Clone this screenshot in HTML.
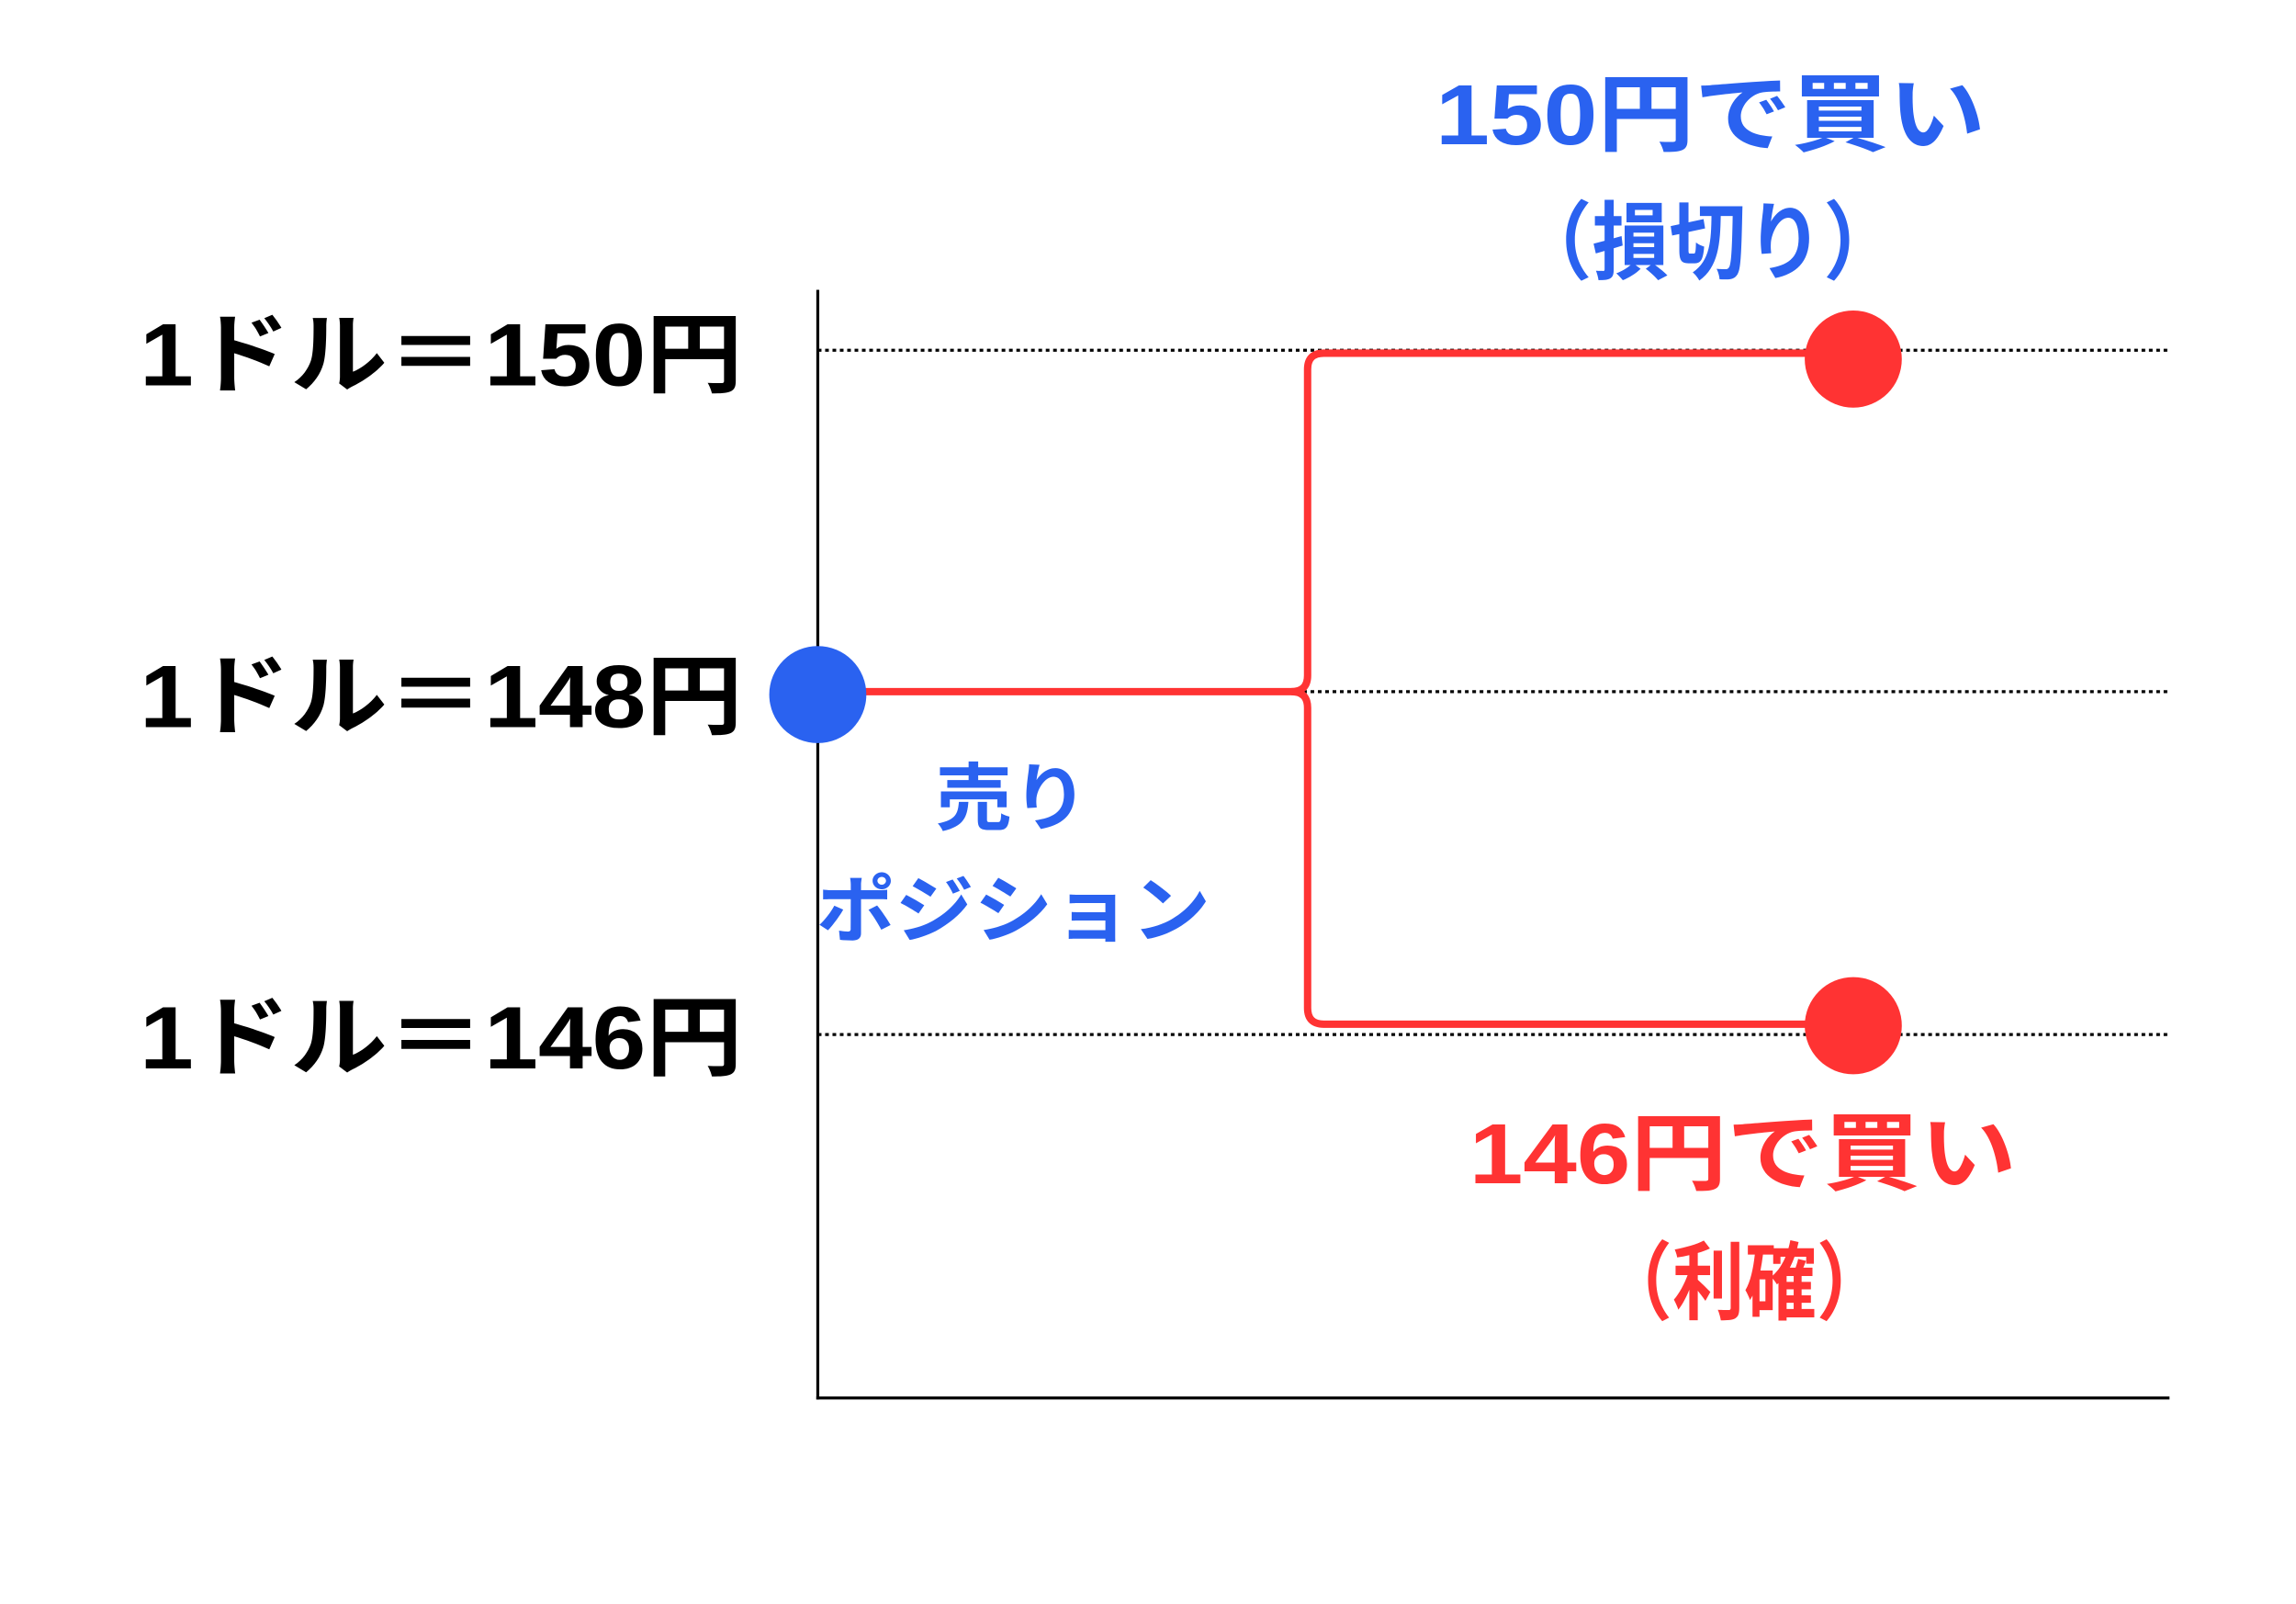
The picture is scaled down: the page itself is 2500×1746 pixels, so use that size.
<!DOCTYPE html>
<html><head><meta charset="utf-8"><style>
html,body{margin:0;padding:0;background:#fff;width:2500px;height:1746px;overflow:hidden}
svg{display:block}
text{font-family:"Liberation Sans","Noto Sans CJK JP",sans-serif;font-weight:bold}
</style></head><body>
<svg width="2500" height="1746" viewBox="0 0 1561 1090" preserveAspectRatio="none" xmlns="http://www.w3.org/2000/svg">
<rect width="1561" height="1090" fill="#fff"/>
<!-- axes -->
<line x1="556" y1="197" x2="556" y2="951" stroke="#000" stroke-width="2"/>
<line x1="555" y1="950" x2="1475" y2="950" stroke="#000" stroke-width="2"/>
<!-- dotted lines -->
<g stroke="#000" stroke-width="2" stroke-dasharray="2.5,2.5">
<line x1="556" y1="238" x2="1475" y2="238"/>
<line x1="556" y1="470" x2="1475" y2="470"/>
<line x1="556" y1="703" x2="1475" y2="703"/>
</g>
<!-- red connectors -->
<g stroke="#ff3333" stroke-width="5" fill="none" stroke-linejoin="round">
<path d="M556 470 H878 Q889 470 889 459 V251 Q889 240 900 240 H1260"/>
<path d="M878 470 Q889 470 889 481 V685 Q889 696 900 696 H1260"/>
</g>
<circle cx="556" cy="472" r="33" fill="#2a62f0"/>
<circle cx="1260" cy="244" r="33" fill="#ff3333"/>
<circle cx="1260" cy="697" r="33" fill="#ff3333"/>
<!-- left labels -->
<g fill="#000" font-size="60">
<text x="95" y="262" textLength="410" lengthAdjust="spacingAndGlyphs">1ドル＝150円</text>
<text x="95" y="494" textLength="410" lengthAdjust="spacingAndGlyphs">1ドル＝148円</text>
<text x="95" y="726" textLength="410" lengthAdjust="spacingAndGlyphs">1ドル＝146円</text>
</g>
<g fill="#2a62f0" font-size="58">
<text x="976" y="98" textLength="374" lengthAdjust="spacingAndGlyphs">150円で買い</text>
<text x="1030" y="185" textLength="262" lengthAdjust="spacingAndGlyphs">（損切り）</text>
</g>
<g fill="#2a62f0" font-size="50">
<text x="636" y="560" textLength="104" lengthAdjust="spacingAndGlyphs">売り</text>
<text x="555" y="636" textLength="268" lengthAdjust="spacingAndGlyphs">ポジション</text>
</g>
<g fill="#ff3333" font-size="58">
<text x="999" y="804" textLength="372" lengthAdjust="spacingAndGlyphs">146円で買い</text>
<text x="1088" y="892" textLength="196" lengthAdjust="spacingAndGlyphs">（利確）</text>
</g>
</svg>
</body></html>
